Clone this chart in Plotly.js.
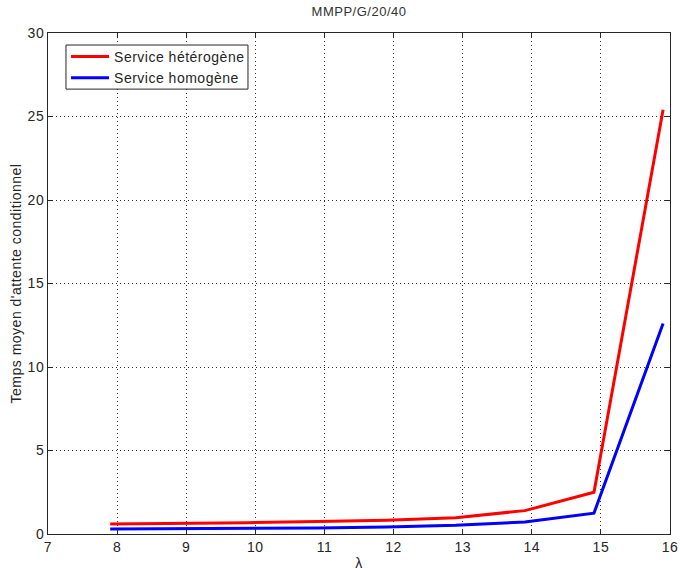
<!DOCTYPE html>
<html>
<head>
<meta charset="utf-8">
<script src="https://cdn.plot.ly/plotly-3.0.1.min.js"></script>
<style>html,body{margin:0;padding:0;background:#fff;}#chart{width:680px;height:571px;} svg text{letter-spacing:0.5px;}</style>
</head>
<body>
<div id="chart"></div>
<script>
const lambdaValues = [7.9, 8.9, 9.9, 10.9, 11.9, 12.9, 13.9, 14.9, 15.9];
const heterogeneous = [0.6, 0.62, 0.68, 0.75, 0.82, 0.98, 1.4, 2.5, 25.4];
const homogeneous = [0.3, 0.31, 0.33, 0.36, 0.42, 0.52, 0.72, 1.25, 12.6];
const xTicks = [7, 8, 9, 10, 11, 12, 13, 14, 15, 16];
const yTicks = [0, 5, 10, 15, 20, 25, 30];

const fam = 'Liberation Sans, Arial, sans-serif';
const txtColor = '#262626';
const font = {family: fam, size: 14, color: txtColor};
const traces = [
  {x: lambdaValues, y: heterogeneous, mode: 'lines', name: 'Service hétérogène', line: {color: '#ff0000', width: 3}},
  {x: lambdaValues, y: homogeneous, mode: 'lines', name: 'Service homogène', line: {color: '#0000ff', width: 3}}
];
const axisCommon = {
  showline: true, linecolor: '#262626', linewidth: 1, mirror: 'ticks',
  ticks: 'inside', ticklen: 5, tickcolor: '#262626',
  showgrid: true, gridcolor: '#333', griddash: '1px,3px', gridwidth: 1,
  zeroline: false, tickfont: font
};
const layout = {
  width: 680, height: 571,
  margin: {l: 48, r: 10, t: 33, b: 37},
  paper_bgcolor: '#fff', plot_bgcolor: '#fff',
  font: font,
  title: {text: 'MMPP/G/20/40', font: {family: fam, size: 13, color: '#333'}, x: 0.528, xanchor: 'center', y: 0.988, yanchor: 'top'},
  xaxis: Object.assign({}, axisCommon, {range: [7, 16], tickvals: xTicks, ticktext: xTicks.map(String),
    title: {text: 'λ', font: {family: fam, size: 14, color: txtColor}, standoff: 5}}),
  yaxis: Object.assign({}, axisCommon, {range: [0, 30], tickvals: yTicks, ticktext: yTicks.map(String),
    title: {text: "Temps moyen d'attente conditionnel", font: {family: fam, size: 14, color: txtColor}, standoff: 2}}),
  shapes: [{type: 'rect', xref: 'paper', yref: 'paper', x0: 0.0289, x1: 0.3215, y0: 0.888, y1: 0.976,
    line: {color: '#262626', width: 1}, fillcolor: '#fff', layer: 'above'}],
  legend: {x: 0.029, y: 0.984, xanchor: 'left', yanchor: 'top', bgcolor: 'rgba(0,0,0,0)', borderwidth: 0,
    font: {family: fam, size: 14, color: txtColor}, tracegroupgap: 0, itemwidth: 38},
  showlegend: true
};
Plotly.newPlot('chart', traces, layout, {displayModeBar: false, staticPlot: true});
</script>
</body>
</html>
